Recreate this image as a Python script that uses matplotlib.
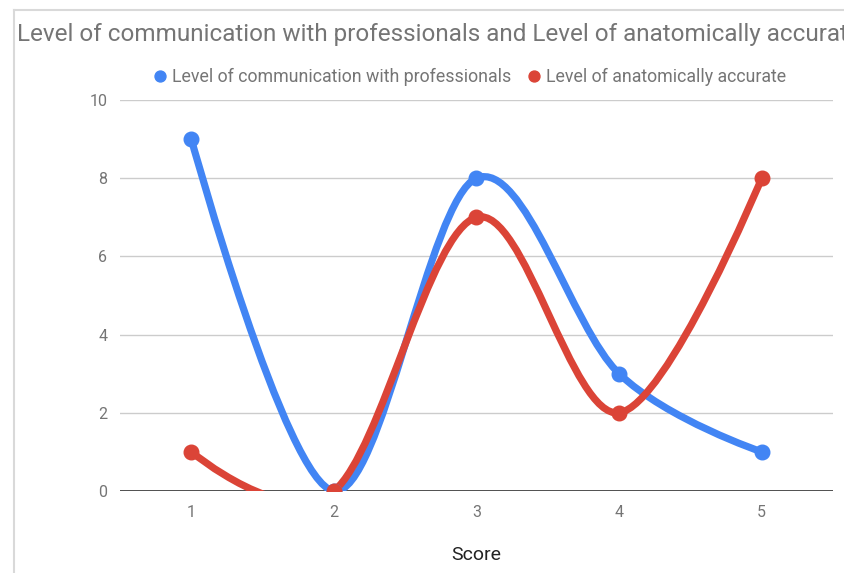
import matplotlib
matplotlib.use("Agg")
import matplotlib.pyplot as plt
from matplotlib.path import Path
from matplotlib.patches import PathPatch
from matplotlib.lines import Line2D
import numpy as np

plt.rcParams['font.family'] = ['Roboto', 'DejaVu Sans']

scores = [1, 2, 3, 4, 5]
communication = [9, 0, 8, 3, 1]
anatomical = [1, 0, 7, 2, 8]
series_names = ["Level of communication with professionals", "Level of anatomically accurate"]
colors = ["#4285F4", "#DB4437"]
title = "Level of communication with professionals and Level of anatomically accurate"


def smooth_path(xs, ys):
    # cubic bezier through the points, catmull-rom style tangents
    pts = np.column_stack([xs, ys]).astype(float)
    n = len(pts)
    verts = [pts[0]]
    codes = [Path.MOVETO]
    for i in range(n - 1):
        prev = pts[i - 1] if i > 0 else pts[i]
        nxt = pts[i + 2] if i + 2 < n else pts[i + 1]
        t0 = (pts[i + 1] - prev) / 6 if i > 0 else np.zeros(2)
        t1 = (nxt - pts[i]) / 6 if i + 2 < n else np.zeros(2)
        verts += [pts[i] + t0, pts[i + 1] - t1, pts[i + 1]]
        codes += [Path.CURVE4] * 3
    return Path(verts, codes)


fig = plt.figure(figsize=(8.45, 5.73), dpi=100)
ax = fig.add_axes([120 / 845, 1 - 491 / 573, 713 / 845, 391 / 573])

for name, values, color in zip(series_names, [communication, anatomical], colors):
    patch = PathPatch(smooth_path(scores, values), facecolor="none", edgecolor=color,
                      lw=5.2, capstyle="round", joinstyle="round", zorder=3)
    ax.add_patch(patch)
    ax.plot(scores, values, "o", color=color, markersize=10.5, zorder=4, label=name)

ax.set_xlim(0.5, 5.5)
ax.set_ylim(0, 10)
ax.set_yticks([0, 2, 4, 6, 8, 10])
ax.set_xticks(scores)
ax.grid(axis="y", color="#cccccc", lw=1)
ax.axhline(0, color="#333333", lw=1.2, zorder=2)
ax.set_axisbelow(True)
for s in ax.spines.values():
    s.set_visible(False)
ax.tick_params(length=0, labelsize=11.5, labelcolor="#757575")
ax.tick_params(axis="y", pad=9)
ax.tick_params(axis="x", pad=10)
ax.set_xlabel("Score", fontsize=14, color="#222222", labelpad=19)

leg = ax.legend(loc="center", bbox_to_anchor=(0.489, 1.059), ncol=2, frameon=False,
                fontsize=12.8, handletextpad=0.2, columnspacing=0.75, markerscale=0.75,
                handlelength=1.0)
for t in leg.get_texts():
    t.set_color("#757575")

fig.text(17 / 845, 1 - 34 / 573, title, fontsize=17.5, color="#757575", va="center", ha="left")

fig.add_artist(Line2D([14 / 845, 14 / 845], [0, 1 - 10 / 573], color="#d9d9d9", lw=1.5,
                      transform=fig.transFigure))
fig.add_artist(Line2D([14 / 845, 1], [1 - 10 / 573, 1 - 10 / 573], color="#d9d9d9", lw=1.5,
                      transform=fig.transFigure))

fig.savefig("out.png", dpi=100)
